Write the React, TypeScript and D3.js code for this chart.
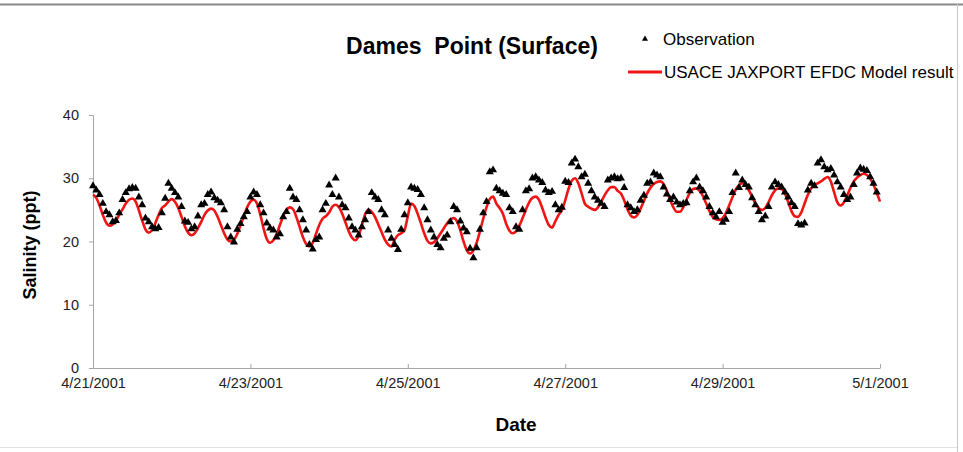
import React, { useRef, useEffect } from "react";
import * as d3 from "d3";

// hourly series starting 4/21/2001 00:00
const startDate = Date.UTC(2001, 3, 21);
const endDate = Date.UTC(2001, 4, 1);

const observed = [
  28.8, 28.1, 27.4, 26.0, 24.7, 24.2, 23.1, 23.3, 24.5, 26.6, 27.7, 28.3, 28.5, 28.4, 27.0, 25.8,
  23.7, 23.1, 22.3, 22.0, 22.2, 24.5, 26.8, 29.2, 28.4, 27.7, 27.0, 25.5, 23.2, 23.0, 22.0, 22.3,
  24.0, 25.8, 26.0, 27.4, 27.8, 26.9, 26.5, 26.1, 25.0, 22.3, 20.7, 19.9, 21.9, 22.8, 23.9, 24.7,
  27.0, 27.8, 27.4, 25.8, 24.5, 22.9, 22.1, 21.8, 20.7, 21.2, 23.9, 24.7, 28.4, 27.0, 26.6, 25.0,
  23.4, 21.8, 19.5, 18.8, 20.3, 20.7, 25.0, 26.0, 28.9, 27.4, 30.0, 27.0, 25.8, 25.3, 23.7, 22.3,
  21.8, 21.0, 22.3, 23.4, 24.7, 27.7, 27.0, 26.6, 25.0, 24.2, 21.8, 20.5, 19.5, 18.7, 21.9, 24.2,
  26.1, 28.6, 28.4, 28.2, 27.4, 25.3, 23.4, 21.8, 20.7, 19.5, 19.0, 20.5, 21.0, 23.1, 25.5, 25.0,
  23.2, 22.1, 21.5, 18.9, 17.4, 19.0, 21.9, 24.5, 26.3, 31.0, 31.3, 28.4, 28.0, 27.6, 27.4, 25.3,
  24.7, 22.3, 21.9, 25.0, 28.0, 28.3, 30.0, 30.2, 29.7, 29.3, 28.1, 27.7, 27.9, 25.8, 25.0, 25.4,
  29.5, 29.3, 32.4, 33.0, 31.8, 30.2, 30.6, 29.2, 28.0, 27.0, 26.5, 26.0, 25.5, 29.7, 30.0, 30.2,
  29.9, 30.0, 28.5, 25.8, 25.3, 24.7, 25.0, 26.5, 27.3, 29.2, 29.4, 30.8, 30.5, 30.2, 28.6, 27.5,
  26.6, 27.0, 26.2, 25.8, 26.0, 26.1, 28.0, 29.4, 30.0, 28.6, 28.0, 27.0, 25.5, 24.5, 23.9, 24.7,
  23.0, 23.5, 24.7, 27.7, 30.8, 28.5, 29.7, 29.0, 28.6, 26.9, 25.8, 24.7, 23.4, 24.0, 25.5, 28.6,
  29.4, 29.0, 28.6, 27.8, 27.0, 26.1, 25.5, 22.8, 22.6, 22.9, 28.1, 29.2, 28.8, 32.4, 32.9, 31.8,
  31.3, 31.5, 30.5, 29.4, 28.6, 27.4, 26.6, 27.0, 29.0, 30.8, 31.6, 31.4, 31.2, 30.2, 29.2, 27.8,
];

const modelled = [
  27.4, 26.9, 25.7, 24.2, 23.0, 22.5, 22.7, 23.3, 24.2, 25.1, 26.0, 26.6, 26.8, 26.3, 24.9, 23.3,
  21.9, 21.4, 21.8, 22.9, 24.2, 25.3, 25.7, 26.3, 26.7, 26.3, 25.3, 23.9, 22.4, 21.4, 21.0, 21.3,
  22.1, 23.1, 24.2, 24.9, 25.2, 24.9, 23.9, 22.6, 21.3, 20.3, 20.0, 20.3, 21.2, 22.6, 24.0, 25.4,
  26.3, 26.6, 26.0, 24.3, 22.1, 20.4, 19.8, 20.2, 21.2, 22.6, 24.0, 25.0, 25.4, 25.1, 23.9, 22.3,
  20.7, 19.6, 19.2, 19.8, 21.2, 22.6, 23.6, 24.0, 24.6, 25.5, 25.8, 25.4, 24.4, 23.0, 21.6, 20.6,
  20.2, 20.9, 22.6, 24.3, 25.0, 24.7, 23.9, 22.7, 21.5, 20.3, 19.5, 19.2, 20.3, 21.0, 21.3, 21.8,
  24.0, 26.0, 25.6, 24.4, 22.9, 21.3, 20.1, 19.7, 19.9, 20.5, 21.3, 22.1, 22.9, 23.5, 23.7, 23.2,
  21.8, 20.0, 18.6, 18.1, 18.6, 19.8, 21.6, 23.6, 25.4, 26.7, 27.1, 26.0, 25.3, 24.4, 22.8, 21.7,
  21.3, 21.6, 22.5, 23.7, 25.0, 26.2, 26.9, 27.1, 26.6, 25.3, 23.8, 22.6, 22.2, 23.2, 24.2, 25.0,
  26.5, 28.3, 29.6, 30.0, 29.2, 27.6, 26.0, 25.5, 25.2, 25.0, 25.4, 26.3, 27.3, 28.1, 28.6, 28.6,
  28.0, 27.6, 26.5, 25.1, 24.1, 23.8, 24.2, 25.2, 26.4, 27.6, 28.5, 29.1, 29.4, 29.5, 29.1, 28.0,
  26.6, 25.4, 24.7, 24.7, 25.4, 26.6, 27.7, 28.3, 28.4, 28.0, 27.2, 26.0, 24.8, 23.9, 23.5, 23.4,
  23.7, 24.5, 25.7, 27.0, 28.2, 28.9, 29.2, 28.9, 28.1, 27.1, 26.0, 25.3, 25.0, 25.3, 26.2, 27.3,
  28.1, 28.4, 28.3, 27.6, 26.2, 24.8, 24.0, 23.9, 24.6, 26.0, 27.4, 28.4, 29.0, 29.2, 29.5, 29.9,
  30.2, 29.5, 27.8, 26.2, 25.7, 26.2, 27.3, 28.5, 29.5, 30.1, 30.5, 30.7, 30.5, 29.9, 29.0, 27.7,
  26.3,
];

const yTicks = [0, 10, 20, 30, 40];
const legendLabels = ["Observation", "USACE JAXPORT EFDC Model result"];

const hourTime = (i: number) => new Date(startDate + i * 3600 * 1000);

const App = () => {
  const ref = useRef<SVGSVGElement>(null);
  const width = 963;
  const height = 452;
  const font = "'Liberation Sans', Arial, sans-serif";

  useEffect(() => {
    document.body.style.margin = "0";
    const svg = d3.select(ref.current);
    svg.selectAll("*").remove();

    const x = d3.scaleUtc().domain([new Date(startDate), new Date(endDate)]).range([93, 880]);
    const y = d3.scaleLinear().domain([0, 40]).range([368, 115]);

    // frame of the original screenshot
    svg.append("rect").attr("width", width).attr("height", height).attr("fill", "#fff");
    svg.append("line").attr("x1", 0).attr("x2", width).attr("y1", 4.5).attr("y2", 4.5)
      .attr("stroke", "#8a8a8a").attr("stroke-width", 2);
    svg.append("line").attr("x1", 957.5).attr("x2", 957.5).attr("y1", 4).attr("y2", height)
      .attr("stroke", "#c8c8c8").attr("stroke-width", 1);
    svg.append("line").attr("x1", 0).attr("x2", 957).attr("y1", 447.5).attr("y2", 447.5)
      .attr("stroke", "#e2e2e2").attr("stroke-width", 1);

    // y axis
    const yAxis = svg.append("g").attr("transform", "translate(93,0)")
      .call(d3.axisLeft(y).tickValues(yTicks).tickSize(4).tickPadding(10));
    yAxis.select(".domain").attr("stroke", "#a6a6a6");
    yAxis.selectAll(".tick line").attr("stroke", "#a6a6a6");
    yAxis.selectAll("text").attr("font-family", font).attr("font-size", 14.5).attr("fill", "#222");

    // x axis
    const xAxis = svg.append("g").attr("transform", "translate(0,368)")
      .call(d3.axisBottom(x).ticks(d3.utcDay.every(2)).tickFormat(d3.utcFormat("%-m/%-d/%Y") as any)
        .tickSizeInner(-4).tickSizeOuter(0).tickPadding(10));
    xAxis.select(".domain").attr("stroke", "#a6a6a6");
    xAxis.selectAll(".tick line").attr("stroke", "#a6a6a6");
    xAxis.selectAll("text").attr("font-family", font).attr("font-size", 14.5).attr("fill", "#222");

    // model line
    const line = d3.line<number>()
      .x((d, i) => x(hourTime(i)))
      .y((d) => y(d))
      .curve(d3.curveMonotoneX);
    svg.append("path").datum(modelled)
      .attr("fill", "none").attr("stroke", "#f01414").attr("stroke-width", 2.6)
      .attr("stroke-linejoin", "round").attr("d", line);

    // observations
    const tri = d3.symbol().type(d3.symbolTriangle).size(28);
    svg.append("g").selectAll("path").data(observed).join("path")
      .attr("d", tri)
      .attr("transform", (d, i) => `translate(${x(hourTime(i))},${y(d)})`)
      .attr("fill", "#000");

    // title
    svg.append("text").attr("x", 472).attr("y", 54).attr("text-anchor", "middle")
      .attr("font-family", font).attr("font-size", 23).attr("font-weight", "bold")
      .attr("xml:space", "preserve").style("white-space", "pre")
      .text("Dames  Point (Surface)");

    // axis titles
    svg.append("text").attr("transform", "translate(36,245) rotate(-90)").attr("text-anchor", "middle")
      .attr("font-family", font).attr("font-size", 18).attr("font-weight", "bold")
      .text("Salinity (ppt)");
    svg.append("text").attr("x", 516).attr("y", 431).attr("text-anchor", "middle")
      .attr("font-family", font).attr("font-size", 19).attr("font-weight", "bold")
      .text("Date");

    // legend
    const legTri = d3.symbol().type(d3.symbolTriangle).size(16);
    svg.append("path").attr("d", legTri).attr("transform", "translate(645,39)").attr("fill", "#000");
    svg.append("text").attr("x", 663).attr("y", 45).attr("font-family", font).attr("font-size", 17)
      .text(legendLabels[0]);
    svg.append("line").attr("x1", 628).attr("x2", 662).attr("y1", 72).attr("y2", 72)
      .attr("stroke", "#f01414").attr("stroke-width", 3);
    svg.append("text").attr("x", 664).attr("y", 78).attr("font-family", font).attr("font-size", 17)
      .text(legendLabels[1]);
  }, []);

  return <svg ref={ref} width={width} height={height} style={{ display: "block" }} />;
};

export default App;
